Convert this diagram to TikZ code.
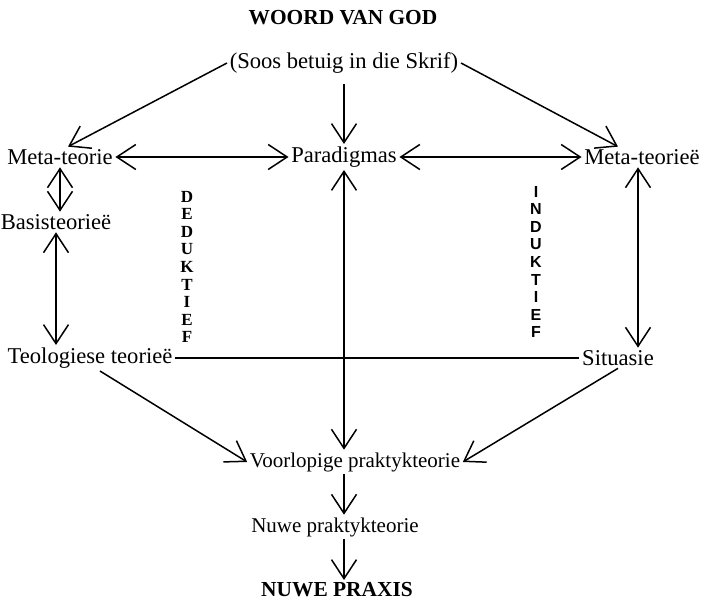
\documentclass[tikz,border=0pt]{standalone}
\usepackage{fontspec}
\setmainfont{Liberation Serif}
\newfontfamily\sansf{Liberation Sans}
\usetikzlibrary{arrows.meta}
\tikzset{every picture/.style={line width=0.75pt}}
\tikzset{
  woord/.style={inner sep=1pt,font=\fontsize{11.3}{13}\selectfont},
  letters/.style={align=center,inner sep=0pt,font=\bfseries\fontsize{8.5}{8.8}\selectfont},
}

\begin{document}
\begin{tikzpicture}[x=0.5pt,y=-0.5pt,>={Straight Barb[length=9.5pt,width=12.5pt]}]
  \useasboundingbox (0,0) rectangle (701,603);
  % boonste deel
  \node[woord,font=\bfseries\fontsize{10.7}{12}\selectfont] (god) at (343,18) {WOORD VAN GOD};
  \node[woord] (skrif) at (344,63) {(Soos betuig in die Skrif)};
  \node[woord] (meta) at (60,157) {Meta-teorie};
  \node[woord] (para) at (344,157) {Paradigmas};
  \node[woord] (metar) at (642,157) {Meta-teorieë};
  % linkerkant en regterkant
  \node[woord] (basis) at (56,222) {Basisteorieë};
  \node[woord] (teol) at (90,358) {Teologiese teorieë};
  \node[woord] (sit) at (618,358) {Situasie};
  \node[letters] (ded) at (187,267) {D\\E\\D\\U\\K\\T\\I\\E\\F};
  \node[letters,font=\sansf\bfseries\fontsize{8}{8.8}\selectfont] (ind) at (536,262) {I\\N\\D\\U\\K\\T\\I\\E\\F};
  % onderste deel
  \node[woord,font=\fontsize{10.5}{12}\selectfont] (voor) at (355,462) {Voorlopige praktykteorie};
  \node[woord,font=\fontsize{10.5}{12}\selectfont] (nuwe) at (335,527) {Nuwe praktykteorie};
  \node[woord,font=\bfseries\fontsize{10.7}{12}\selectfont] (praxis) at (337,590) {NUWE PRAXIS};

  \draw[->] (skrif.west) -- ([xshift=4]meta.north);
  \draw[->] (skrif.south) ++(0,8) coordinate (s0) (s0) -- (para.north);
  \draw[->] (skrif.east) -- ([xshift=-12]metar.north);
  \draw[<->] (meta.east) -- (para.west);
  \draw[<->] (para.east) -- (metar.west);
  \draw[<->] (meta.south) -- (meta.south |- basis.north);
  \draw[<->] (basis.south) -- (basis.south |- teol.north);
  \draw[<->] (para.south) -- (para.south |- voor.north);
  \draw[<->] ([xshift=-2]metar.south) -- ([xshift=-2]metar.south |- sit.north);
  \draw (teol.east) -- (sit.west);
  \draw[->] ([xshift=5]teol.south) -- (voor.west);
  \draw[->] (sit.south) -- (voor.east);
  \draw[->] (para.south |- voor.south) -- (para.south |- nuwe.north);
  \draw[->] (para.south |- nuwe.south) -- (para.south |- praxis.north);
\end{tikzpicture}
\end{document}
